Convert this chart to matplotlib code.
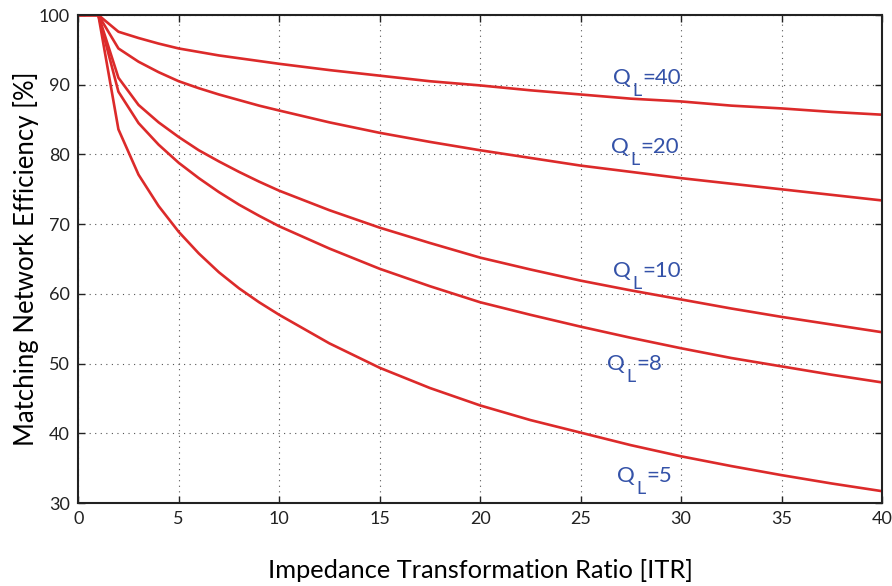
import numpy as np
import matplotlib.pyplot as plt

# Impedance transformation ratio (x) and efficiency readings per loaded Q
itr = [0, 1, 2, 3, 4, 5, 6, 7, 8, 9, 10, 12.5, 15, 17.5, 20, 22.5, 25, 27.5, 30, 32.5, 35, 37.5, 40]
eff_q40 = [100, 100, 97.6, 96.7, 95.9, 95.2, 94.7, 94.2, 93.8, 93.4, 93.0,
           92.1, 91.3, 90.5, 89.9, 89.2, 88.6, 88.0, 87.6, 87.0, 86.6, 86.1, 85.7]
eff_q20 = [100, 100, 95.2, 93.3, 91.8, 90.5, 89.5, 88.6, 87.8, 87.0, 86.3,
           84.6, 83.1, 81.8, 80.6, 79.5, 78.4, 77.5, 76.6, 75.8, 75.0, 74.2, 73.4]
eff_q10 = [100, 100, 91.0, 87.1, 84.6, 82.5, 80.6, 79.0, 77.5, 76.1, 74.8,
           72.0, 69.5, 67.3, 65.2, 63.5, 61.9, 60.5, 59.2, 57.9, 56.7, 55.6, 54.5]
eff_q8 = [100, 100, 89.0, 84.5, 81.4, 78.8, 76.6, 74.6, 72.8, 71.2, 69.7,
          66.5, 63.6, 61.1, 58.8, 57.0, 55.3, 53.7, 52.2, 50.8, 49.6, 48.4, 47.3]
eff_q5 = [100, 100, 83.6, 77.1, 72.6, 68.9, 65.8, 63.1, 60.8, 58.8, 57.0,
          52.9, 49.4, 46.5, 44.0, 41.9, 40.1, 38.3, 36.7, 35.3, 34.0, 32.8, 31.7]

curves = [eff_q40, eff_q20, eff_q10, eff_q8, eff_q5]
labels = ['40', '20', '10', '8', '5']
label_x = [26.6, 26.5, 26.6, 26.3, 26.8]
label_y = [91.0, 81.0, 63.3, 49.9, 33.9]

red = '#dc2a2a'
blue = '#3452a8'
font = 'Lato'

fig = plt.figure(figsize=(8.92, 5.86), dpi=100)
ax = fig.add_axes([0.0877, 0.1416, 0.9011, 0.8328])

for eff in curves:
    ax.plot(itr, eff, color=red, linewidth=1.9)

# Q_L labels: "Q", subscript "L", then "=value"
for lab, lx, ly in zip(labels, label_x, label_y):
    ax.text(lx, ly, 'Q', color=blue, fontsize=16, family=font, ha='left', va='center')
    ax.annotate('L', (lx, ly), xytext=(20, -13), textcoords='offset pixels',
                color=blue, fontsize=13, family=font, ha='left', va='center')
    ax.annotate('=' + lab, (lx, ly), xytext=(30, 0), textcoords='offset pixels',
                color=blue, fontsize=16, family=font, ha='left', va='center')

ax.set_xlim(0, 40)
ax.set_ylim(30, 100)
ax.set_xticks(np.arange(0, 41, 5))
ax.set_yticks(np.arange(30, 101, 10))
ax.grid(True, linestyle=(0, (1, 4)), color='#555555', linewidth=0.8)
ax.tick_params(direction='in', length=5, width=1, top=True, right=True,
               labelsize=13, pad=6, colors='#222222')
for lbl in ax.get_xticklabels() + ax.get_yticklabels():
    lbl.set_family(font)
for sp in ax.spines.values():
    sp.set_linewidth(1.5)
    sp.set_color('#222222')

ax.set_xlabel('Impedance Transformation Ratio [ITR]', fontsize=18.3, family=font, labelpad=23)
ax.set_ylabel('Matching Network Efficiency [%]', fontsize=18.5, family=font, labelpad=0)

fig.savefig('out.png', dpi=100)
